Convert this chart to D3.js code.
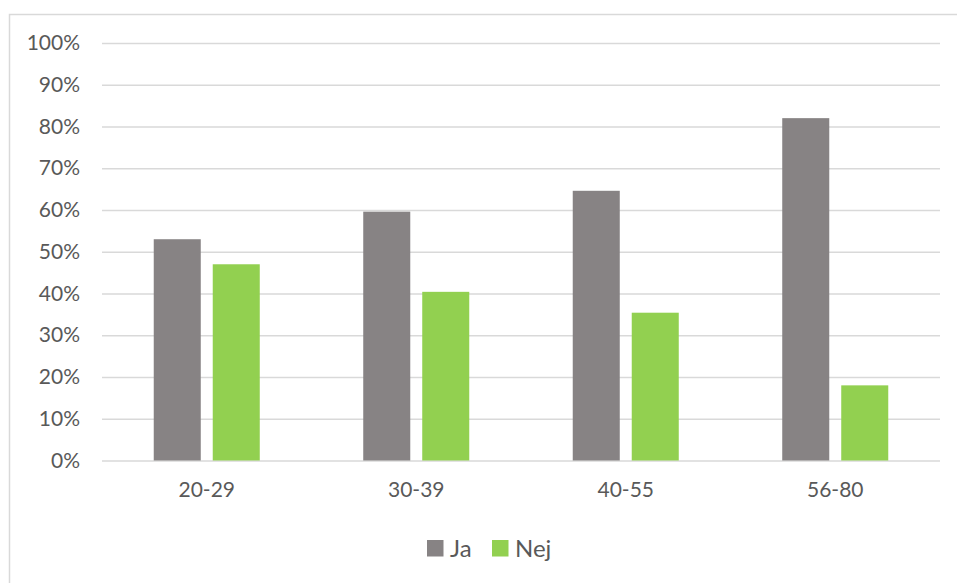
<!DOCTYPE html>
<html>
<head>
<meta charset="utf-8">
<script src="https://cdn.jsdelivr.net/npm/d3@7"></script>
<style>
  body { margin: 0; background: #fff; }
  text { font-family: Lato, "Open Sans", sans-serif; fill: #595959; }
</style>
</head>
<body>
<div id="chart"></div>
<script>
var categories = ["20-29", "30-39", "40-55", "56-80"];
var seriesNames = ["Ja", "Nej"];
var jaValues = [0.53, 0.596, 0.646, 0.82];
var nejValues = [0.47, 0.404, 0.354, 0.18];
var yTicks = [0, 0.1, 0.2, 0.3, 0.4, 0.5, 0.6, 0.7, 0.8, 0.9, 1.0];

var colors = { "Ja": "#878384", "Nej": "#92d050" };

/*
 * Bounds of component.
 */
var width = 957,
    height = 583;

var svg = d3.select("#chart").append("svg")
    .attr("width", width)
    .attr("height", height);

/*
 * Chart frame, cut off on the right and bottom.
 */
svg.append("rect")
    .attr("x", 9.5)
    .attr("y", 14.5)
    .attr("width", 1000)
    .attr("height", 700)
    .attr("fill", "none")
    .attr("stroke", "#d9d9d9")
    .attr("stroke-width", 1.5);

var plot = { left: 102, right: 940, top: 43, bottom: 460.5 };

var x0 = d3.scaleBand()
    .domain(categories)
    .range([plot.left, plot.right])
    .padding(0);

var x1 = d3.scaleBand()
    .domain(seriesNames)
    .range([0, x0.bandwidth()])
    .paddingInner(0.203)
    .paddingOuter(0.877);

var y = d3.scaleLinear()
    .domain([0, 1])
    .range([plot.bottom, plot.top]);

/*
 * Gridlines and y labels.
 */
var yAxis = d3.axisLeft(y)
    .tickValues(yTicks)
    .tickFormat(d3.format(".0%"))
    .tickSize(-(plot.right - plot.left))
    .tickPadding(22);

var gy = svg.append("g")
    .attr("transform", "translate(" + plot.left + ",0)")
    .call(yAxis);
gy.select(".domain").remove();
gy.selectAll(".tick line")
    .attr("stroke", "#d9d9d9")
    .attr("stroke-width", 1.5);
gy.selectAll(".tick text")
    .style("font-size", "21px")
    .attr("fill", "#595959");

/*
 * Bars.
 */
var rows = categories.map(function(c, i) {
    return { cat: c, values: [
        { name: "Ja", value: jaValues[i] },
        { name: "Nej", value: nejValues[i] }
    ] };
});

var groups = svg.selectAll(".group")
    .data(rows)
    .enter().append("g")
    .attr("class", "group")
    .attr("transform", function(d) { return "translate(" + x0(d.cat) + ",0)"; });

groups.selectAll("rect")
    .data(function(d) { return d.values; })
    .enter().append("rect")
    .attr("x", function(d) { return x1(d.name); })
    .attr("width", x1.bandwidth())
    .attr("y", function(d) { return y(d.value); })
    .attr("height", function(d) { return y(0) - y(d.value); })
    .attr("fill", function(d) { return colors[d.name]; });

/*
 * Category labels.
 */
var xAxis = d3.axisBottom(x0)
    .tickSize(0)
    .tickPadding(22);

var gx = svg.append("g")
    .attr("transform", "translate(0," + plot.bottom + ")")
    .call(xAxis);
gx.select(".domain").remove();
gx.selectAll(".tick text")
    .style("font-size", "21px")
    .attr("fill", "#595959");

/*
 * Legend.
 */
var legend = svg.append("g")
    .attr("transform", "translate(427,540)");

var legendX = d3.scaleOrdinal()
    .domain(seriesNames)
    .range([0, 65]);

var item = legend.selectAll(".item")
    .data(seriesNames)
    .enter().append("g")
    .attr("class", "item")
    .attr("transform", function(d) { return "translate(" + legendX(d) + ",0)"; });

item.append("rect")
    .attr("width", 16.5)
    .attr("height", 16.5)
    .attr("fill", function(d) { return colors[d]; });

item.append("text")
    .attr("x", 23)
    .attr("y", 17)
    .style("font-size", "24px")
    .text(function(d) { return d; });
</script>
</body>
</html>
